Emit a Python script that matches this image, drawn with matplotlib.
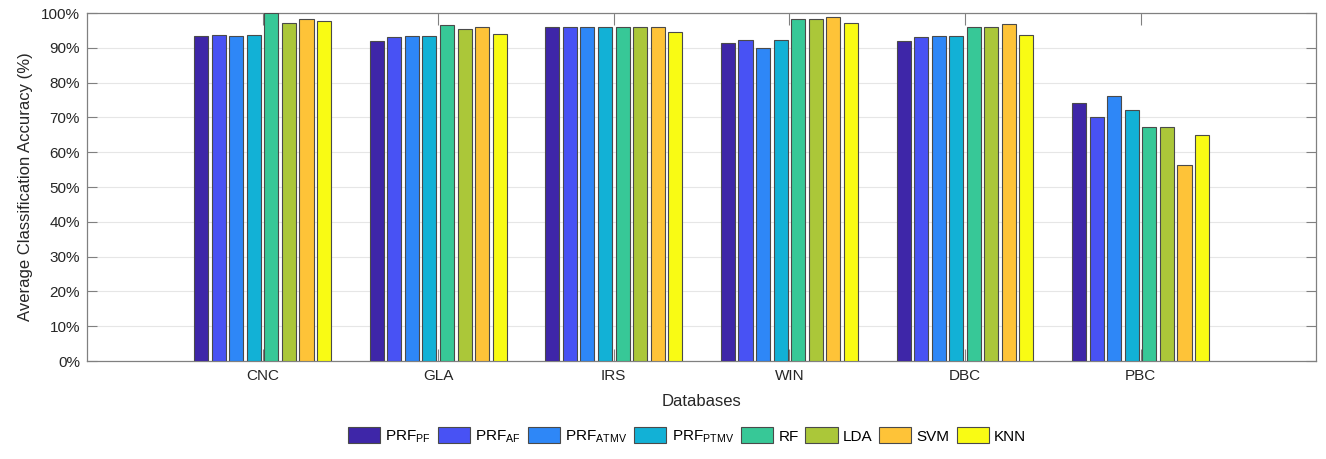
import matplotlib
matplotlib.use("Agg")
import matplotlib.pyplot as plt
import numpy as np

plt.rcParams['font.family'] = ['Liberation Sans', 'DejaVu Sans']
plt.rcParams['mathtext.fontset'] = 'custom'
plt.rcParams['mathtext.rm'] = 'Liberation Sans'

databases = ["CNC", "GLA", "IRS", "WIN", "DBC", "PBC"]
methods = [r"PRF$_{\mathrm{PF}}$", r"PRF$_{\mathrm{AF}}$", r"PRF$_{\mathrm{ATMV}}$",
           r"PRF$_{\mathrm{PTMV}}$", "RF", "LDA", "SVM", "KNN"]

# accuracy (%) per method, one value per database
prf_pf = [93.3, 92.0, 96.1, 91.3, 92.0, 74.1]
prf_af = [93.6, 93.1, 96.1, 92.3, 93.2, 70.0]
prf_atmv = [93.5, 93.5, 96.1, 90.0, 93.5, 76.1]
prf_ptmv = [93.8, 93.5, 96.1, 92.3, 93.5, 72.0]
rf = [100.0, 96.5, 96.1, 98.3, 96.1, 67.2]
lda = [97.2, 95.3, 96.1, 98.4, 96.1, 67.2]
svm = [98.4, 96.1, 96.1, 98.9, 96.9, 56.3]
knn = [97.8, 93.9, 94.6, 97.2, 93.8, 65.0]

series = [prf_pf, prf_af, prf_atmv, prf_ptmv, rf, lda, svm, knn]
colors = ["#3E26A8", "#4852F4", "#2E87F7", "#12B1D6",
          "#37C897", "#ABC739", "#FEC338", "#F9FB14"]

fig = plt.figure(figsize=(13.26, 4.59), dpi=100)
ax = fig.add_axes([0.0656, 0.2135, 0.927, 0.758])

x = np.arange(1, len(databases) + 1)
n = len(series)
step = 0.8 / n
for i, (vals, c, lab) in enumerate(zip(series, colors, methods)):
    ax.bar(x + (i - (n - 1) / 2) * step, vals, width=0.08, color=c,
           edgecolor="#4a4a4a", linewidth=0.8, label=lab, zorder=3)

ax.set_xlim(0, 7)
ax.set_ylim(0, 100)
ax.set_xticks(x)
ax.set_xticklabels(databases)
ax.set_yticks(np.arange(0, 101, 10))
ax.set_yticklabels([f"{v}%" for v in range(0, 101, 10)])
ax.yaxis.grid(True, color="#e6e6e6", linewidth=0.8, zorder=0)
ax.set_axisbelow(True)

for s in ax.spines.values():
    s.set_color("#808080")
    s.set_linewidth(0.9)
ax.tick_params(axis='both', direction='in', colors="#808080", labelcolor="#262626",
               labelsize=11, top=True, right=True)
ax.tick_params(axis='x', length=8.5, pad=6)
ax.tick_params(axis='y', length=7, pad=5)

ax.set_xlabel("Databases", fontsize=12, color="#262626", labelpad=8)
ax.set_ylabel("Average Classification Accuracy (%)", fontsize=12, color="#262626", labelpad=6)

leg = fig.legend(loc='lower center', bbox_to_anchor=(0.518, 0.0), ncol=8, frameon=False,
                 fontsize=11, handlelength=2.1, handleheight=1.25, columnspacing=0.45,
                 handletextpad=0.35)

fig.savefig("out.png", dpi=100)
